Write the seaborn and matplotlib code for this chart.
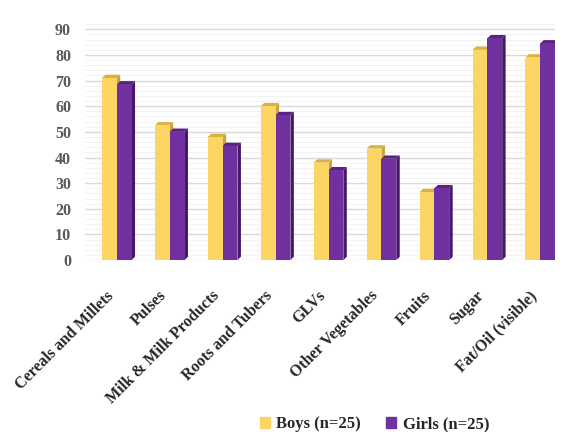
import pandas as pd
import matplotlib.pyplot as plt
import matplotlib.transforms as mtransforms
import seaborn as sns
from matplotlib.patches import Polygon
from matplotlib.ticker import MultipleLocator

# Food groups and consumption values
categories = ['Cereals and Millets', 'Pulses', 'Milk & Milk Products',
              'Roots and Tubers', 'GLVs', 'Other Vegetables', 'Fruits',
              'Sugar', 'Fat/Oil (visible)']
boys = [71, 52.5, 48, 60, 38, 43.5, 26.5, 82, 79]
girls = [68.5, 50, 44.5, 56.5, 35, 39.5, 28, 86.5, 84.5]
series = ['Boys (n=25)', 'Girls (n=25)']

df = pd.DataFrame({
    'Food': categories * 2,
    'Value': boys + girls,
    'Group': [series[0]] * len(boys) + [series[1]] * len(girls),
})

sns.set_style("white")
plt.rcParams['font.family'] = ['Liberation Serif', 'DejaVu Serif']
plt.rcParams['font.weight'] = 'bold'

front = {series[0]: '#FDD565', series[1]: '#7030A0'}
side = {'#FDD565': '#C9A23A', '#7030A0': '#47186A'}
top = {'#FDD565': '#D9B13E', '#7030A0': '#5A2383'}

fig = plt.figure(figsize=(5.63, 4.32), dpi=100)
ax = fig.add_axes([0.151, 0.398, 0.835, 0.546])

sns.barplot(data=df, x='Food', y='Value', hue='Group', palette=front,
            width=0.56, saturation=1, ax=ax, zorder=3, legend=False,
            linewidth=0, edgecolor='none')

ax.set_ylim(0, 92)
ax.set_xlim(-0.6, 8.28)

# fake 3D side and top faces, built from the bar patches
ddx, ddy = 0.065, 1.3
for p in list(ax.patches):
    x, w, h = p.get_x(), p.get_width(), p.get_height()
    fc = '#FDD565' if p.get_facecolor()[0] > 0.8 else '#7030A0'
    ax.add_patch(Polygon([(x + w, 0), (x + w, h), (x + w + ddx, h + ddy),
                          (x + w + ddx, ddy)], closed=True,
                         facecolor=side[fc], edgecolor='none', zorder=2.9))
    ax.add_patch(Polygon([(x, h), (x + w, h), (x + w + ddx, h + ddy),
                          (x + ddx, h + ddy)], closed=True,
                         facecolor=top[fc], edgecolor='none', zorder=2.9))

ax.yaxis.set_major_locator(MultipleLocator(10))
ax.yaxis.set_minor_locator(MultipleLocator(2))
ax.set_ylim(0, 92)
ax.grid(axis='y', which='major', color='#D9D9D9', linewidth=1.0, zorder=0)
ax.grid(axis='y', which='minor', color='#F0F0F0', linewidth=0.6, zorder=0)
ax.set_axisbelow(True)
sns.despine(ax=ax, left=True, bottom=True)

ax.set_xlabel('')
ax.set_ylabel('')
ax.tick_params(axis='y', length=0, labelsize=11.5, labelcolor='#595959', pad=10)
ax.tick_params(axis='x', length=0, labelsize=11.5, pad=20)
shift = mtransforms.ScaledTranslation(-8 / 72, 0, fig.dpi_scale_trans)
for lab in ax.get_xticklabels():
    lab.set_rotation(45)
    lab.set_ha('right')
    lab.set_rotation_mode('anchor')
    lab.set_fontweight('bold')
    lab.set_transform(lab.get_transform() + shift)
plt.setp(ax.get_yticklabels(), fontweight='bold')

handles = [plt.Rectangle((0, 0), 1, 1, color=front[s]) for s in series]
fig.legend(handles, series, loc='lower center', bbox_to_anchor=(0.665, -0.035),
           ncol=2, frameon=False, handlelength=0.6,
           handleheight=0.6, handletextpad=0.4, columnspacing=1.5,
           prop={'weight': 'bold', 'size': 12})

plt.savefig('out.png', dpi=100)
